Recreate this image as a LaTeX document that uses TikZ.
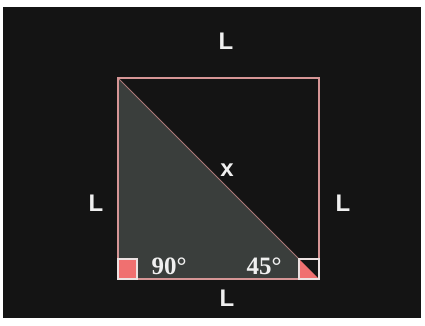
\documentclass[tikz,border=0pt]{standalone}
\usepackage{fontspec}
\setmainfont{Liberation Sans}
\newfontfamily\anglefont{Liberation Serif}
\usepackage{tikz}
\usetikzlibrary{calc}
\definecolor{board}{RGB}{20, 20, 20}
\definecolor{wedgegray}{RGB}{58, 62, 60}
\definecolor{edge}{RGB}{214, 150, 150}
\definecolor{marker}{RGB}{240, 112, 112}
\definecolor{chalk}{RGB}{240, 240, 240}
\tikzset{
  sidelabel/.style={text=chalk, font=\bfseries\fontsize{24}{24}\selectfont, inner sep=0pt},
  anglelabel/.style={text=chalk, font=\anglefont\bfseries\fontsize{25}{25}\selectfont, inner sep=0pt},
  squareline/.style={draw=edge, line width=1.6pt},
  hypline/.style={draw=edge!80!black, line width=1pt},
  markbox/.style={draw=chalk!85!edge, line width=1.2pt}
}
\begin{document}
\begin{tikzpicture}[x=1pt, y=-1pt]
  % frame
  \fill[white] (0,0) rectangle (425,325);
  \fill[board] (3,7) rectangle (421,318);
  \useasboundingbox (0,0) rectangle (425,325);

  % corners of the square
  \coordinate (tl) at (118,78);
  \coordinate (tr) at (319,78);
  \coordinate (bl) at (118,279);
  \coordinate (br) at (319,279);

  % triangle
  \fill[wedgegray] (tl) -- (bl) -- (br) -- cycle;
  \draw[hypline] (tl) -- (br);
  \draw[squareline] (tl) rectangle (br);

  % angle markers
  \filldraw[marker, markbox] (bl) rectangle ++(19,-20);
  \fill[board] ($(br)+(-20,-20)$) -- (br) -- ++(0,-20) -- cycle;
  \fill[marker] ($(br)+(-20,-20)$) -- (br) -- ++(-20,0) -- cycle;
  \draw[markbox] (br) rectangle ++(-20,-20);

  % labels
  \node[sidelabel] (ltop) at (226,41) {L};
  \node[sidelabel] (lleft) at (96,203) {L};
  \node[sidelabel] (lright) at (343,203) {L};
  \node[sidelabel] (lbottom) at (227,298) {L};
  \node[sidelabel] (hyp) at (227,170) {x};
  \node[anglelabel] (right) at (169,266) {90°};
  \node[anglelabel] (acute) at (264,266) {45°};
\end{tikzpicture}
\end{document}
